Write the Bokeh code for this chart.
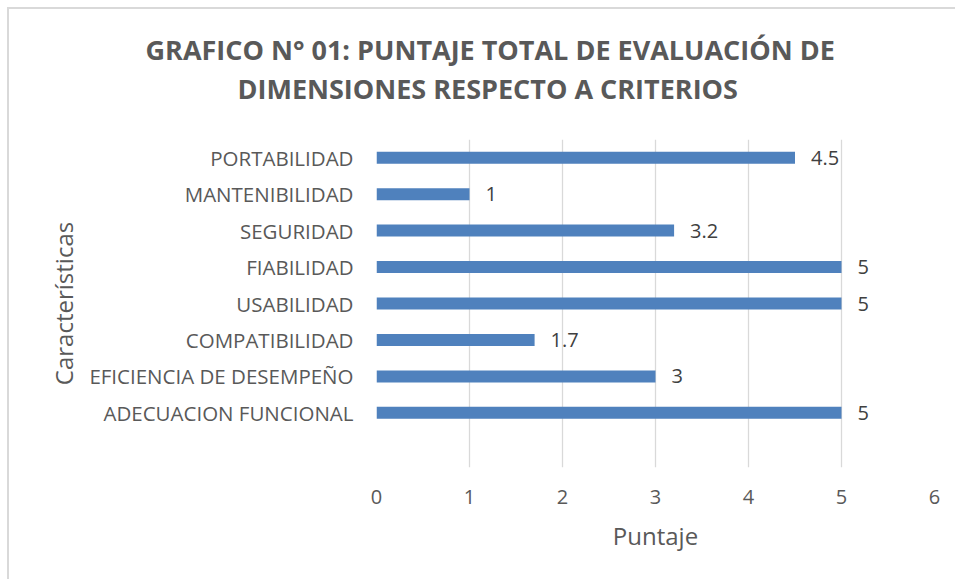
from bokeh.plotting import figure
from bokeh.models import Range1d, FixedTicker, Title, ColumnDataSource
from bokeh.core.properties import value
from bokeh.embed import file_html
from bokeh.resources import INLINE

categories = ["ADECUACION FUNCIONAL", "EFICIENCIA DE DESEMPEÑO", "COMPATIBILIDAD",
              "USABILIDAD", "FIABILIDAD", "SEGURIDAD", "MANTENIBILIDAD", "PORTABILIDAD"]
scores = [5, 3, 1.7, 5, 5, 3.2, 1, 4.5]
score_labels = ["5", "3", "1.7", "5", "5", "3.2", "1", "4.5"]
x_ticks = [0, 1, 2, 3, 4, 5, 6]
title_lines = ["GRAFICO N° 01: PUNTAJE TOTAL DE EVALUACIÓN DE",
               "DIMENSIONES RESPECTO A CRITERIOS"]

positions = list(range(1, len(categories) + 1))
src = ColumnDataSource(dict(y=positions, x=scores, lab=score_labels))

FONT = "Open Sans"
GREY = "#595959"

p = figure(width=948, height=572, output_backend="svg", toolbar_location=None,
           x_range=Range1d(0, 6), y_range=Range1d(-0.5, 8.5),
           min_border_left=367, min_border_right=23, min_border_top=20,
           min_border_bottom=114, title=None)
p.styles = {"border-left": "2px solid #d9d9d9", "border-top": "2px solid #d9d9d9",
            "margin-left": "7px", "margin-top": "7px"}

# spacer between plot frame and the two-line title
p.add_layout(Title(text=" ", text_font_size="1px", standoff=30), "above")
title_offsets = [-231, -139]
p.add_layout(Title(text=title_lines[1], align="left", offset=title_offsets[1],
                   text_font=FONT, text_font_size="27px", text_font_style="bold",
                   text_color=GREY, standoff=0), "above")
p.add_layout(Title(text=title_lines[0], align="left", offset=title_offsets[0],
                   text_font=FONT, text_font_size="27px", text_font_style="bold",
                   text_color=GREY, standoff=0), "above")
# spacer above the title
p.add_layout(Title(text=" ", text_font_size="1px", standoff=16), "above")

p.hbar(y="y", right="x", left=0, height=0.33, source=src,
       fill_color="#4F81BD", line_color=None)
p.text(x="x", y="y", text="lab", source=src, x_offset=16, text_baseline="middle",
       text_align="left", text_font=value(FONT), text_font_size="20px",
       text_color="#404040")

p.outline_line_color = None
p.ygrid.grid_line_color = None
p.xgrid.ticker = FixedTicker(ticks=x_ticks)
p.xgrid.grid_line_color = "#d9d9d9"
p.xgrid.grid_line_width = 1.3

p.xaxis.ticker = FixedTicker(ticks=x_ticks)
p.xaxis.axis_line_color = None
p.xaxis.major_tick_line_color = None
p.xaxis.minor_tick_line_color = None
p.xaxis.major_tick_out = 0
p.xaxis.major_tick_in = 0
p.xaxis.major_label_standoff = 22
p.xaxis.major_label_text_font = FONT
p.xaxis.major_label_text_font_size = "20px"
p.xaxis.major_label_text_color = GREY
p.xaxis.axis_label = "Puntaje"
p.xaxis.axis_label_text_font = FONT
p.xaxis.axis_label_text_font_size = "24px"
p.xaxis.axis_label_text_font_style = "normal"
p.xaxis.axis_label_text_color = GREY
p.xaxis.axis_label_standoff = 12

p.yaxis.ticker = FixedTicker(ticks=positions)
p.yaxis.major_label_overrides = {pos: cat for pos, cat in zip(positions, categories)}
p.yaxis.axis_line_color = None
p.yaxis.major_tick_line_color = None
p.yaxis.minor_tick_line_color = None
p.yaxis.major_tick_out = 0
p.yaxis.major_tick_in = 0
p.yaxis.major_label_standoff = 23
p.yaxis.major_label_text_font = FONT
p.yaxis.major_label_text_font_size = "20.5px"
p.yaxis.major_label_text_color = GREY
p.yaxis.axis_label = "Características"
p.yaxis.axis_label_text_font = FONT
p.yaxis.axis_label_text_font_size = "24px"
p.yaxis.axis_label_text_font_style = "normal"
p.yaxis.axis_label_text_color = GREY
p.yaxis.axis_label_standoff = 6

open("out.html", "w").write(file_html(p, INLINE))
